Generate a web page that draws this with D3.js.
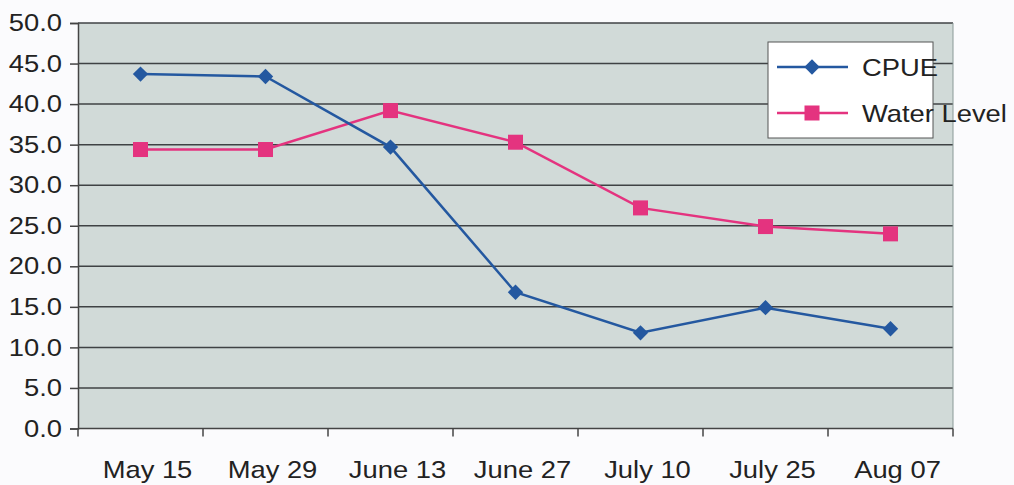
<!DOCTYPE html>
<html>
<head>
<meta charset="utf-8">
<script src="https://cdn.jsdelivr.net/npm/d3@7/dist/d3.min.js"></script>
<style>
  html, body { margin: 0; padding: 0; background: #fbfbfd; }
  svg { display: block; }
  text { font-family: "Liberation Sans", Arial, sans-serif; fill: #222; }
</style>
</head>
<body>
<svg id="chart" width="1014" height="485"></svg>
<script>
// Sampling dates
const categories = ["May 15", "May 29", "June 13", "June 27", "July 10", "July 25", "Aug 07"];
// Catch per unit effort
const cpue = [43.7, 43.4, 34.7, 16.8, 11.8, 14.9, 12.3];
// Water level
const waterLevel = [34.4, 34.4, 39.2, 35.3, 27.2, 24.9, 24.0];
const yTicks = [0, 5, 10, 15, 20, 25, 30, 35, 40, 45, 50];

const svg = d3.select("#chart");
const plot = { left: 78, top: 23, right: 953, bottom: 428.5 };
const fontSize = 24;
const stretch = 1.14; // wide lettering

const x = d3.scaleBand().domain(categories).range([plot.left, plot.right]);
const y = d3.scaleLinear().domain([0, 50]).range([plot.bottom, plot.top]);

// Plot area background
svg.append("rect")
  .attr("x", plot.left).attr("y", plot.top)
  .attr("width", plot.right - plot.left).attr("height", plot.bottom - plot.top)
  .attr("fill", "#d1dad8");

// Horizontal gridlines
svg.append("g").selectAll("line").data(yTicks.filter(d => d > 0)).join("line")
  .attr("x1", plot.left).attr("x2", plot.right)
  .attr("y1", d => y(d)).attr("y2", d => y(d))
  .attr("stroke", "#3f4244").attr("stroke-width", 1.5);

// Right border of plot area
svg.append("line")
  .attr("x1", plot.right).attr("x2", plot.right)
  .attr("y1", plot.top).attr("y2", plot.bottom)
  .attr("stroke", "#8a9a98").attr("stroke-width", 1);

// Y axis
const yAxis = svg.append("g")
  .attr("transform", `translate(${plot.left},0)`)
  .call(d3.axisLeft(y).tickValues(yTicks).tickFormat(d3.format(".1f")).tickSizeOuter(0).tickSize(8).tickPadding(8));
yAxis.select(".domain").attr("stroke", "#444").attr("stroke-width", 1.5);
yAxis.selectAll(".tick line").attr("stroke", "#444").attr("stroke-width", 1.5);
yAxis.selectAll(".tick text")
  .attr("font-size", fontSize).attr("fill", "#222")
  .style("font-family", "'Liberation Sans', Arial, sans-serif")
  .attr("transform", function () {
    const tx = +d3.select(this).attr("x");
    return `translate(${tx},0) scale(${stretch},1) translate(${-tx},0)`;
  });

// X axis with tick marks at category boundaries
const xAxisG = svg.append("g").attr("transform", `translate(0,${plot.bottom})`);
xAxisG.append("line")
  .attr("x1", plot.left).attr("x2", plot.right)
  .attr("stroke", "#444").attr("stroke-width", 1.5);
const boundaries = categories.map(c => x(c)).concat([plot.right]);
xAxisG.selectAll("line.tk").data(boundaries).join("line").attr("class", "tk")
  .attr("x1", d => d).attr("x2", d => d).attr("y1", 0).attr("y2", 8)
  .attr("stroke", "#444").attr("stroke-width", 1.5);
xAxisG.selectAll("text").data(categories).join("text")
  .attr("text-anchor", "middle")
  .attr("font-size", fontSize)
  .attr("transform", d => `translate(${x(d) + x.bandwidth() / 2 + 7},49) scale(${stretch},1)`)
  .text(d => d);

const cx = (d, i) => x(categories[i]) + x.bandwidth() / 2;
const line = d3.line().x((d, i) => cx(d, i)).y(d => y(d));

const blue = "#2458a0";
const pink = "#e4337f";

// Water Level series
svg.append("path").datum(waterLevel)
  .attr("d", line).attr("fill", "none").attr("stroke", pink).attr("stroke-width", 2.5);
svg.append("g").selectAll("rect").data(waterLevel).join("rect")
  .attr("x", (d, i) => cx(d, i) - 7.5).attr("y", d => y(d) - 7.5)
  .attr("width", 15).attr("height", 15).attr("fill", pink);

// CPUE series
svg.append("path").datum(cpue)
  .attr("d", line).attr("fill", "none").attr("stroke", blue).attr("stroke-width", 2.5);
const diamond = d3.symbol().type(d3.symbolDiamond2).size(150);
svg.append("g").selectAll("path").data(cpue).join("path")
  .attr("d", diamond)
  .attr("transform", (d, i) => `translate(${cx(d, i)},${y(d)})`)
  .attr("fill", blue);

// Legend
const legend = svg.append("g");
legend.append("rect")
  .attr("x", 768).attr("y", 42).attr("width", 165).attr("height", 96)
  .attr("fill", "#ffffff").attr("stroke", "#555").attr("stroke-width", 1);
const items = [
  { name: "CPUE", color: blue, shape: "diamond", yy: 67 },
  { name: "Water Level", color: pink, shape: "square", yy: 113 }
];
items.forEach(it => {
  legend.append("line")
    .attr("x1", 777).attr("x2", 848).attr("y1", it.yy).attr("y2", it.yy)
    .attr("stroke", it.color).attr("stroke-width", 2.5);
  if (it.shape === "diamond") {
    legend.append("path").attr("d", diamond)
      .attr("transform", `translate(812,${it.yy})`).attr("fill", it.color);
  } else {
    legend.append("rect").attr("x", 804.5).attr("y", it.yy - 7.5)
      .attr("width", 15).attr("height", 15).attr("fill", it.color);
  }
  legend.append("text")
    .attr("font-size", fontSize)
    .attr("transform", `translate(862,${it.yy + 9}) scale(${stretch},1)`)
    .text(it.name);
});
</script>
</body>
</html>
